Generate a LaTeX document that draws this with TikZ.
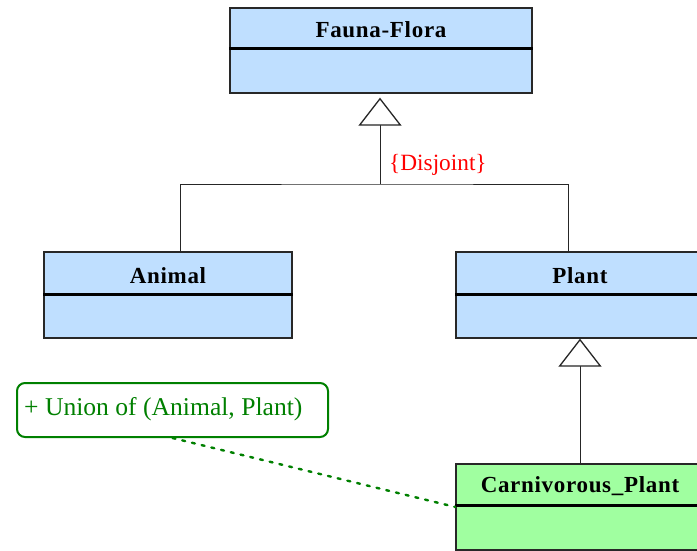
\documentclass[tikz,border=0pt]{standalone}
\usepackage{fontspec}
\setmainfont{Liberation Serif}
\newfontfamily\clstitlefont{Liberation Serif}[LetterSpace=3]
\usetikzlibrary{arrows.meta}
\definecolor{clsblue}{RGB}{191,223,255}
\definecolor{clsgreen}{RGB}{160,255,160}
\definecolor{notegreen}{RGB}{0,128,0}
\definecolor{boxline}{RGB}{40,40,40}
\tikzset{
  cls/.style={draw=boxline, line width=1.3pt, rectangle, inner sep=0pt},
  bluecls/.style={cls, fill=clsblue},
  greencls/.style={cls, fill=clsgreen},
  divider/.style={line width=2.4pt, black},
  title/.style={font=\fontsize{23}{27}\clstitlefont\bfseries, inner sep=0pt, anchor=base},
  conn/.style={line width=1pt, black!85},
  gen/.style={conn, -{Triangle[open, length=28pt, width=43pt, line width=1.3pt, fill=white]}},
  note/.style={draw=notegreen, line width=2pt, rounded corners=8pt, fill=white,
    minimum width=311pt, minimum height=54pt, inner sep=0pt},
  notetext/.style={text=notegreen, font=\fontsize{25.6}{30}\selectfont, inner sep=0pt, anchor=base west},
  constraint/.style={text=red, font=\fontsize{23.3}{27}\selectfont, inner sep=0pt, anchor=base west},
  anchorline/.style={notegreen, line width=2.4pt, dash pattern=on 3pt off 7pt, line cap=round},
}
\begin{document}
\begin{tikzpicture}[x=1pt,y=-1pt]
\useasboundingbox (0,0) rectangle (697,550);
\clip (0,0) rectangle (697,550);
\fill[white] (0,0) rectangle (697,550);

% classes
\node[bluecls, minimum width=302pt, minimum height=85pt] (ff) at (381,50.5) {};
\draw[divider] ([yshift=-41pt]ff.north west) -- ([yshift=-41pt]ff.north east);
\node[title] (fft) at (381,37) {Fauna-Flora};

\node[bluecls, minimum width=248pt, minimum height=86pt] (animal) at (168,295) {};
\draw[divider] ([yshift=-43pt]animal.north west) -- ([yshift=-43pt]animal.north east);
\node[title] (animalt) at (168,283) {Animal};

\node[bluecls, minimum width=248pt, minimum height=86pt] (plant) at (580,295) {};
\draw[divider] ([yshift=-43pt]plant.north west) -- ([yshift=-43pt]plant.north east);
\node[title] (plantt) at (580,283) {Plant};

\node[greencls, minimum width=248pt, minimum height=86pt] (carn) at (580,507) {};
\draw[divider] ([yshift=-42pt]carn.north west) -- ([yshift=-42pt]carn.north east);
\node[title] (carnt) at (580,492) {Carnivorous\_Plant};

% generalization set
\coordinate (jn) at (380,184);
\draw[conn] ([xshift=12pt]animal.north) |- (jn) -| ([xshift=-12pt]plant.north);
\draw[gen, shorten >=4pt] (jn) -- (jn |- ff.south);
\node[constraint] (disj) at (389,170) {\{Disjoint\}};

\draw[gen] (carn.north) -- (plant.south);

% note
\node[note] (note) at (172.5,410) {};
\node[notetext] (notet) at (24,415) {+ Union of (Animal, Plant)};
\draw[anchorline] (note.south) -- (carn.west);
\end{tikzpicture}
\end{document}
